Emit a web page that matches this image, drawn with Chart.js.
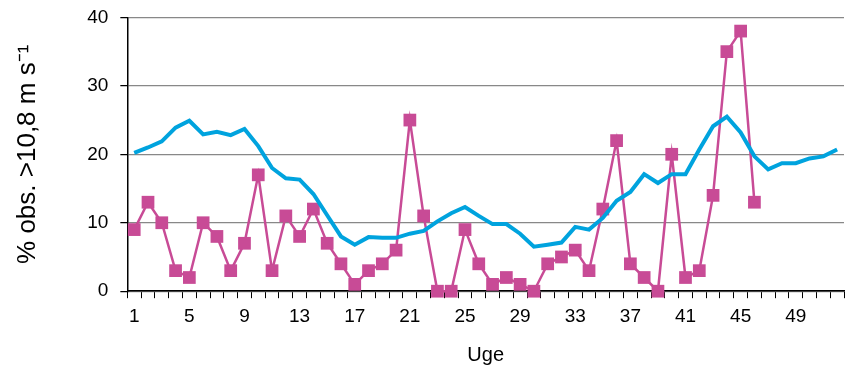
<!DOCTYPE html>
<html>
<head>
<meta charset="utf-8">
<script src="https://cdn.jsdelivr.net/npm/chart.js@4"></script>
<style>
  html, body { margin: 0; padding: 0; background: #fff; overflow: hidden; }
  #wrap { width: 853px; height: 365px; position: relative; }
</style>
</head>
<body>
<div id="wrap"><canvas id="lineChart"></canvas></div>
<script>
// uger 1..52
var weeks = [];
for (var w = 1; w <= 52; w++) weeks.push(String(w));

// blå kurve (normal)
var normalValues = [20.2, 21.0, 21.9, 23.9, 24.9, 22.9, 23.3, 22.8, 23.7, 21.2,
    18.0, 16.5, 16.3, 14.2, 11.1, 8.0, 6.8, 7.9, 7.8, 7.8,
    8.4, 8.8, 10.2, 11.4, 12.3, 11.0, 9.8, 9.8, 8.4, 6.5,
    6.8, 7.1, 9.4, 9.0, 10.7, 13.2, 14.5, 17.1, 15.8, 17.1,
    17.1, 20.7, 24.1, 25.5, 23.2, 19.7, 17.8, 18.7, 18.7, 19.4,
    19.7, 20.7];

// lilla kurve (aktuelt år, uge 1-46)
var yearValues = [9, 13, 10, 3, 2, 10, 8, 3, 7, 17,
    3, 11, 8, 12, 7, 4, 1, 3, 4, 6,
    25, 11, 0, 0, 9, 4, 1, 2, 1, 0,
    4, 5, 6, 3, 12, 22, 4, 2, 0, 20,
    2, 3, 14, 35, 38, 13];

var yTicks = [0, 10, 20, 30, 40];

var ctx = document.getElementById('lineChart').getContext('2d');
new Chart(ctx, {
    type: 'line',
    data: {
        labels: weeks,
        datasets: [
            {
                label: 'Normal',
                data: normalValues,
                borderColor: '#00a3de',
                borderWidth: 4,
                pointRadius: 0,
                tension: 0,
                fill: false
            },
            {
                label: 'Aktuelt',
                data: yearValues,
                borderColor: '#c84b96',
                backgroundColor: '#c84b96',
                borderWidth: 2.5,
                pointStyle: 'rect',
                pointRadius: 9,
                pointBorderWidth: 0,
                tension: 0,
                fill: false,
                clip: false
            }
        ]
    },
    options: {
        responsive: true,
        maintainAspectRatio: false,
        animation: false,
        layout: { padding: { top: 12, left: 12, right: 0, bottom: 0 } },
        plugins: { legend: { display: false }, tooltip: { enabled: false } },
        scales: {
            x: {
                offset: true,
                grid: { offset: true, drawOnChartArea: false, color: '#000', tickLength: 7 },
                border: { color: '#000', width: 1.5 },
                ticks: {
                    autoSkip: false,
                    maxRotation: 0,
                    color: '#000',
                    padding: 7,
                    font: { family: 'Liberation Sans, Arial', size: 19 },
                    callback: function (v, i) { return i % 4 === 0 ? weeks[i] : ''; }
                },
                title: {
                    display: true, text: 'Uge', color: '#000',
                    font: { family: 'Liberation Sans, Arial', size: 20, lineHeight: 1 },
                    padding: { top: 10, bottom: 0 }
                }
            },
            y: {
                min: 0, max: 40,
                afterBuildTicks: function (axis) {
                    axis.ticks = yTicks.map(function (v) { return { value: v }; });
                },
                // lang tick med streg kun de inderste 7 px => luft mellem tal og akse
                grid: { color: '#888', tickColor: '#000', tickLength: 13, tickBorderDash: [0, 6, 7, 100], lineWidth: 1.2 },
                border: { color: '#000', width: 1.5 },
                ticks: {
                    color: '#000',
                    padding: 6,
                    font: { family: 'Liberation Sans, Arial', size: 19 }
                },
                title: {
                    display: true, text: '% obs. >10,8 m s\u207B\u00B9', color: '#000',
                    font: { family: 'Liberation Sans, Arial', size: 26 },
                    padding: { top: 0, bottom: 38 }
                }
            }
        }
    }
});
</script>
</body>
</html>
